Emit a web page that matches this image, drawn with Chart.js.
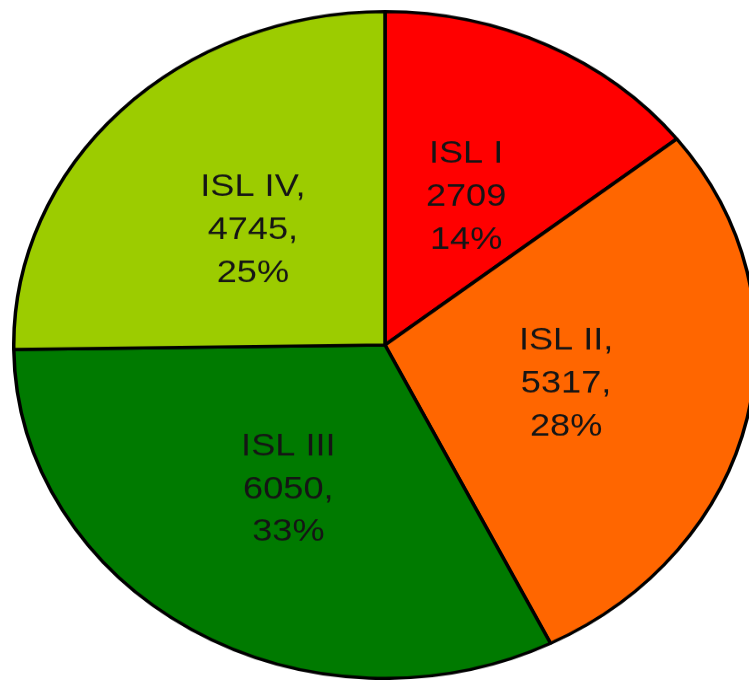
<!DOCTYPE html>
<html>
<head>
<meta charset="utf-8">
<script src="https://cdn.jsdelivr.net/npm/chart.js@4/dist/chart.umd.min.js"></script>
<style>
    html, body { margin: 0; padding: 0; background: #fff; overflow: hidden; width: 749px; height: 680px; }
    #wrap {
        position: absolute; left: 12px; top: 10px;
        width: 746px; height: 746px;
        transform-origin: 0 0;
        transform: scale(1, 0.898);
    }
</style>
</head>
<body>
<div id="wrap"><canvas id="myChart"></canvas></div>
<script>
const categories = ["ISL I", "ISL II", "ISL III", "ISL IV"];
const values = [2709, 5317, 6050, 4745];
const percents = [14, 28, 33, 25];
const nameSep = ["", ",", "", ","];
const valueSep = ["", ",", ",", ","];
const colors = ["#ff0000", "#ff6600", "#007a00", "#9ccc00"];

const squash = 0.898;

// draws the three-line labels inside each slice, undoing the vertical squash
const sliceLabels = {
    id: "sliceLabels",
    afterDatasetsDraw(chart) {
        const ctx = chart.ctx;
        const meta = chart.getDatasetMeta(0);
        meta.data.forEach((arc, i) => {
            const p = arc.getProps(["x", "y", "startAngle", "endAngle", "outerRadius"], true);
            const mid = (p.startAngle + p.endAngle) / 2;
            const r = p.outerRadius * 0.5;
            const lines = [
                categories[i] + nameSep[i],
                values[i] + valueSep[i],
                percents[i] + "%"
            ];
            ctx.save();
            ctx.translate(p.x + Math.cos(mid) * r, p.y + Math.sin(mid) * r);
            ctx.scale(1.13, 1 / squash);
            ctx.font = "32px 'Liberation Sans', Arial, sans-serif";
            ctx.fillStyle = "#151515";
            ctx.textAlign = "center";
            ctx.textBaseline = "middle";
            const lh = 43;
            lines.forEach((t, k) => {
                ctx.fillText(t, 0, (k - 1) * lh + 2);
            });
            ctx.restore();
        });
    }
};

new Chart(document.getElementById("myChart"), {
    type: "pie",
    data: {
        labels: categories,
        datasets: [{
            data: values,
            backgroundColor: colors,
            borderColor: "#000",
            borderWidth: 3.5
        }]
    },
    options: {
        responsive: true,
        maintainAspectRatio: false,
        animation: false,
        layout: { padding: 0 },
        plugins: {
            legend: { display: false },
            tooltip: { enabled: false }
        }
    },
    plugins: [sliceLabels]
});
</script>
</body>
</html>
